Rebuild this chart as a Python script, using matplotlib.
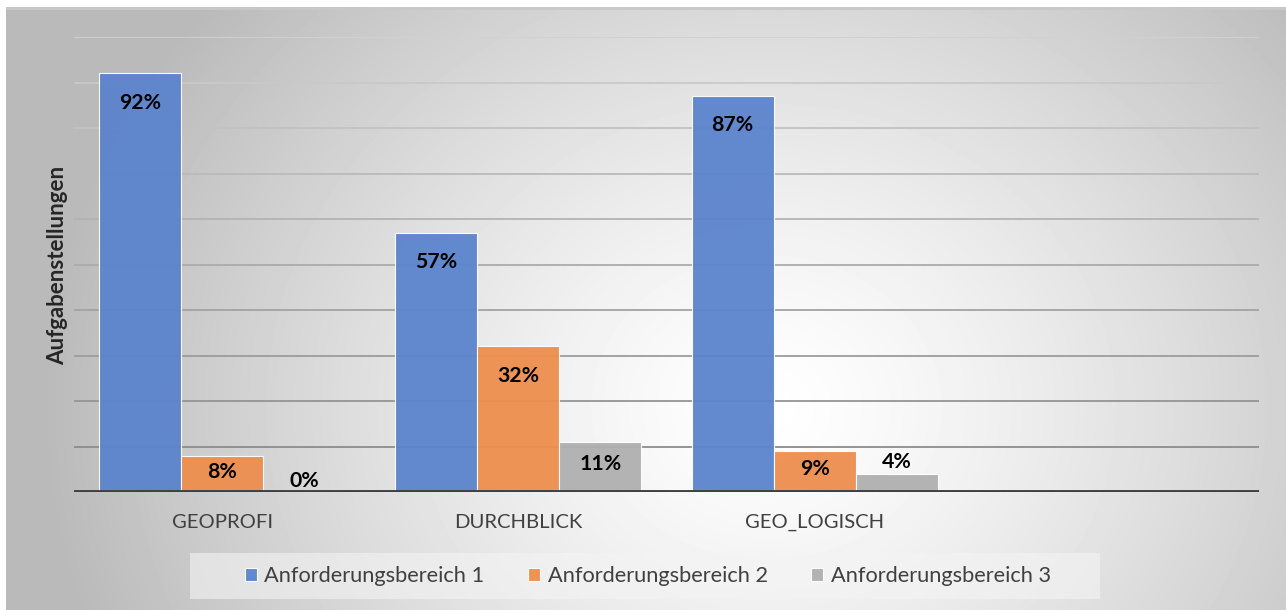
"""
Grouped bar chart: Anforderungsbereiche per Lehrwerk.
"""
import matplotlib
matplotlib.use('Agg')
import matplotlib.pyplot as plt
from matplotlib.patches import Rectangle
import numpy as np

categories = ['GEOPROFI', 'DURCHBLICK', 'GEO_LOGISCH', '']
series_names = ['Anforderungsbereich 1', 'Anforderungsbereich 2', 'Anforderungsbereich 3']
ab1 = [0.92, 0.57, 0.87, np.nan]
ab2 = [0.08, 0.32, 0.09, np.nan]
ab3 = [0.00, 0.11, 0.04, np.nan]
grid_levels = [0.1, 0.2, 0.3, 0.4, 0.5, 0.6, 0.7, 0.8, 0.9, 1.0]

colors = ['#5b83cc', '#ee8e4e', '#b0b0b0']
plt.rcParams['font.family'] = ['Lato', 'DejaVu Sans']

W, H = 1286, 610
fig = plt.figure(figsize=(W / 100, H / 100), dpi=100)
fig.patch.set_facecolor('white')

# radial gradient background
bg = fig.add_axes([6 / W, 0, 1 - 6 / W, (H - 7) / H])
yy, xx = np.mgrid[0:H - 7, 0:W - 6]
r = np.hypot(xx - 760, (yy - 400) * 1.15)
shade = 1 - 0.27 * np.clip(r / 720, 0, 1) ** 1.3
bg.imshow(shade, cmap='gray', vmin=0, vmax=1, aspect='auto', interpolation='bilinear')
bg.axhline(0, color='#c8c8c8', lw=2)
bg.set_axis_off()

ax = fig.add_axes([74 / W, (H - 492) / H, (1259 - 74) / W, (492 - 37) / H])
ax.set_facecolor('none')

x = np.arange(len(categories))
width = 0.277

# gridlines, lighter toward the top
for i, lvl in enumerate(grid_levels):
    g = 0.55 + 0.27 * i / (len(grid_levels) - 1)
    ax.axhline(lvl, color=(g, g, g), lw=1.3, zorder=1)

for k, (vals, col) in enumerate(zip([ab1, ab2, ab3], colors)):
    pos = x + (k - 1) * width
    ax.bar(pos, vals, width, color=col, edgecolor='white', linewidth=0.8,
           alpha=0.95, label=series_names[k], zorder=2)
    for xp, v in zip(pos, vals):
        if np.isnan(v):
            continue
        if v >= 0.08:
            ax.text(xp, max(v - 0.064, v * 0.55), f'{v:.0%}', ha='center', va='center',
                    fontsize=15.3, fontweight='bold', color='black', zorder=3)
        else:
            ax.annotate(f'{v:.0%}', (xp, v), xytext=(0, 1), textcoords='offset points',
                        ha='center', va='bottom', fontsize=15.3, fontweight='bold',
                        color='black', zorder=3)

ax.axhline(0, color='#404040', lw=2.8, zorder=4)
ax.set_xlim(-0.5, 3.5)
ax.set_ylim(0, 1.0)
ax.set_xticks(x)
ax.set_xticklabels(categories, fontsize=14.6, color='#404040')
ax.tick_params(axis='x', length=0, pad=16)
ax.set_yticks([])
for s in ax.spines.values():
    s.set_visible(False)

fig.text(58 / W, 1 - 265 / H, 'Aufgabenstellungen', rotation=90, ha='center', va='center',
         fontsize=16, fontweight='bold', color='#262626')

# legend panel
fig.patches.append(Rectangle((190 / W, 1 - 599 / H), 910 / W, 46 / H,
                             transform=fig.transFigure, facecolor='#f4f4f4',
                             alpha=0.6, edgecolor='none', zorder=1))
leg = fig.legend(loc='center', bbox_to_anchor=(648 / W, 1 - 576 / H), ncol=3,
                 fontsize=15.7, frameon=False, handlelength=0.55, handleheight=0.55,
                 handletextpad=0.35, columnspacing=2.0)
for t in leg.get_texts():
    t.set_color('#404040')

fig.savefig('out.png', dpi=100)
